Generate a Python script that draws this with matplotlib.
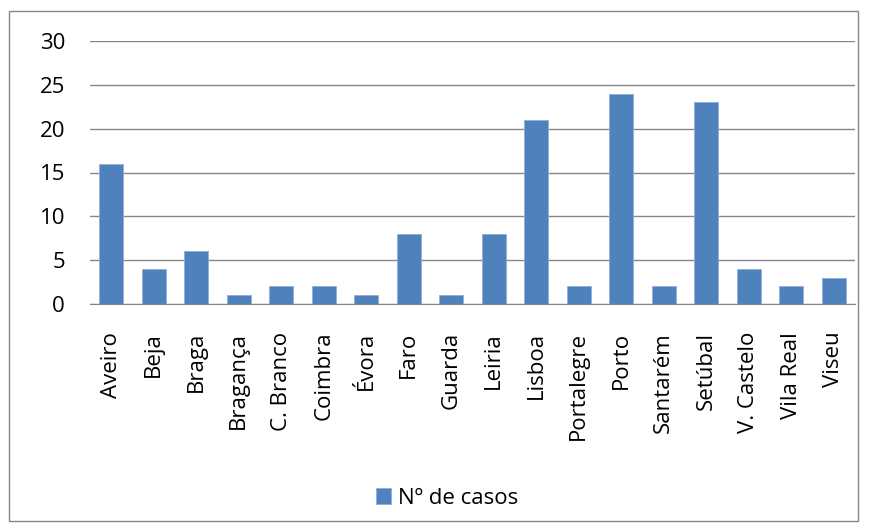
import matplotlib
matplotlib.use('Agg')
import matplotlib.pyplot as plt
from matplotlib.patches import Rectangle

distritos = ['Aveiro', 'Beja', 'Braga', 'Bragança', 'C. Branco', 'Coimbra', 'Évora',
             'Faro', 'Guarda', 'Leiria', 'Lisboa', 'Portalegre', 'Porto', 'Santarém',
             'Setúbal', 'V. Castelo', 'Vila Real', 'Viseu']
casos = [16, 4, 6, 1, 2, 2, 1, 8, 1, 8, 21, 2, 24, 2, 23, 4, 2, 3]
yticks = [0, 5, 10, 15, 20, 25, 30]

plt.rcParams['font.family'] = ['Open Sans', 'DejaVu Sans']

BLUE = '#4F81BD'
GRAY = '#868686'
FS = 16

fig = plt.figure(figsize=(8.69, 5.29), dpi=100)
fig.patches.append(Rectangle((9 / 869, 8 / 529), 849 / 869, 510 / 529,
                             transform=fig.transFigure, fill=False,
                             edgecolor=GRAY, linewidth=1))

ax = fig.add_axes([90 / 869, 225 / 529, 765 / 869, 263 / 529])
x = range(len(distritos))
ax.bar(x, casos, width=0.56, color=BLUE, edgecolor='#8FAFD8', linewidth=0.6,
       label='Nº de casos', zorder=3)

ax.set_ylim(0, 30)
ax.set_xlim(-0.5, len(distritos) - 0.5)
ax.set_yticks(yticks)
ax.set_yticklabels([str(v) for v in yticks], fontsize=FS)
ax.set_xticks(list(x))
ax.set_xticklabels(distritos, rotation=90, fontsize=FS)
ax.tick_params(axis='both', length=0, colors='black')
ax.tick_params(axis='x', pad=20)
ax.tick_params(axis='y', pad=18)
ax.yaxis.grid(True, color=GRAY, linewidth=1, zorder=0)

for s in ['top', 'right', 'left']:
    ax.spines[s].set_visible(False)
ax.spines['bottom'].set_color(GRAY)

fig.legend(loc='center', bbox_to_anchor=(447 / 869, 1 - 498 / 529), frameon=False,
           fontsize=FS, handlelength=0.7, handleheight=0.7, handletextpad=0.3)

plt.savefig('out.png', dpi=100)
